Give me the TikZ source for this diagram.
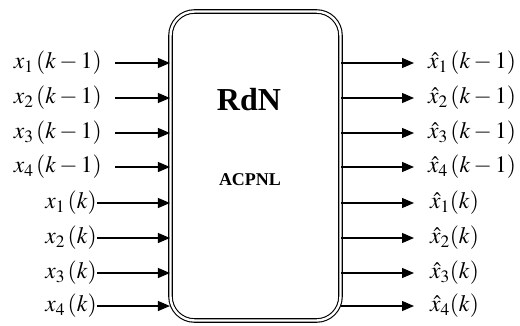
\documentclass[tikz,border=0pt]{standalone}
\usepackage{mathptmx}
\usepackage{fontspec}
\setmainfont{Liberation Serif}
\usetikzlibrary{arrows.meta}

\begin{document}
\begin{tikzpicture}[
  x=1pt,
  y=-1pt,
  lbl/.style={inner sep=0pt, font=\fontsize{23.5}{26}\selectfont},
  net/.style={draw, double, line width=1.1pt, double distance=2.4pt,
    rounded corners=24pt, minimum width=170pt, minimum height=309pt},
  arr/.style={-{Triangle[length=12pt,width=10pt]}, line width=1.2pt}
]
\useasboundingbox (0,0) rectangle (520,325);

% Bloque central
\node[net] (rdn) at (255.5,166) {};
\node[font=\fontsize{32}{34}\selectfont\bfseries] (title) at (249,100) {RdN};
\node[font=\fontsize{18}{20}\selectfont\bfseries] (sub) at (250,180) {ACPNL};

% Entradas y salidas en (k-1)
\foreach \i/\y in {1/63,2/98,3/133,4/167} {
  \node[lbl, anchor=east] (ina\i) at (102,\y) {$x_{\i}\,(k-1)$};
  \node[lbl, anchor=west] (outa\i) at (428,\y) {$\hat{x}_{\i}\,(k-1)$};
  \draw[arr] ([xshift=13pt]ina\i.east) -- (ina\i -| rdn.west);
  \draw[arr] (outa\i -| rdn.east) -- ([xshift=-14pt]outa\i.west);
}

% Entradas y salidas en (k)
\foreach \i/\y in {1/203,2/238,3/273,4/306} {
  \node[lbl, anchor=east] (inb\i) at (97,\y) {$x_{\i}\,(k)$};
  \node[lbl, anchor=west] (outb\i) at (430,\y) {$\hat{x}_{\i}(k)$};
  \draw[arr] (inb\i.east) -- (inb\i -| rdn.west);
  \draw[arr] (outb\i -| rdn.east) -- ([xshift=-16pt]outb\i.west);
}

\end{tikzpicture}
\end{document}
